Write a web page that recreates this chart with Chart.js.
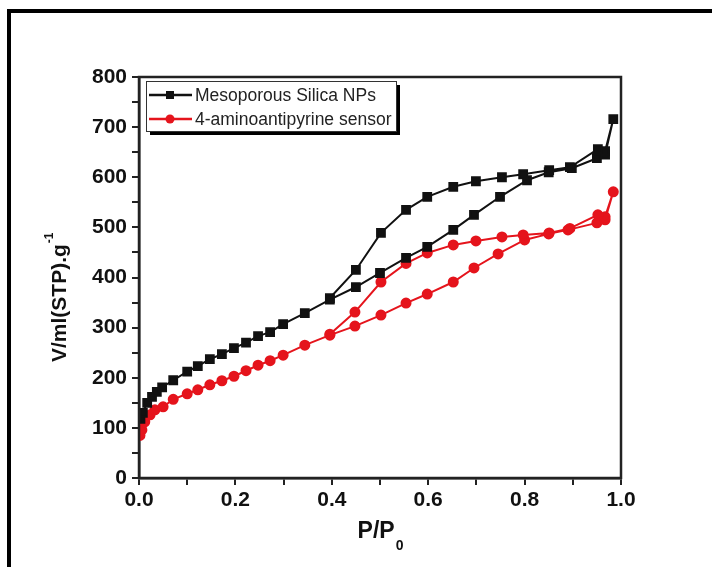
<!DOCTYPE html>
<html lang="en">
<head>
  <meta charset="UTF-8">
  <title>N2 isotherm</title>
  <script src="https://cdn.jsdelivr.net/npm/chart.js"></script>
  <style>
    html, body {
      margin: 0;
      padding: 0;
      background: #fff;
    }
    #wrap {
      position: relative;
      width: 712px;
      height: 567px;
      overflow: hidden;
    }
    #frame {
      position: absolute;
      left: 7px;
      top: 9px;
      width: 800px;
      height: 700px;
      border-left: 4px solid #000;
      border-top: 4px solid #000;
      pointer-events: none;
    }
  </style>
</head>
<body>

<div id="wrap">
  <div id="frame"></div>
  <canvas id="chart"></canvas>
</div>

<script>
  // Mesoporous Silica NPs - adsorption then desorption branch
  const silicaAdsP = [0.003, 0.008, 0.017, 0.027, 0.037, 0.048, 0.071, 0.10, 0.122, 0.147, 0.172, 0.197, 0.222, 0.247, 0.272, 0.299, 0.344, 0.396, 0.45, 0.50, 0.554, 0.598, 0.652, 0.695, 0.749, 0.805, 0.85, 0.898, 0.95, 0.967, 0.984];
  const silicaAdsV = [118, 130, 150, 162, 172, 181, 195, 212, 223, 237, 247, 259, 270, 283, 291, 307, 329, 356, 381, 409, 439, 461, 495, 525, 561, 594, 610, 618, 638, 645, 716];
  const silicaDesP = [0.967, 0.952, 0.894, 0.851, 0.797, 0.753, 0.699, 0.652, 0.598, 0.554, 0.502, 0.45, 0.396];
  const silicaDesV = [652, 656, 620, 614, 606, 600, 592, 581, 561, 535, 489, 415, 359];

  // 4-aminoantipyrine sensor
  const sensorAdsP = [0.002, 0.006, 0.012, 0.023, 0.033, 0.05, 0.071, 0.10, 0.122, 0.147, 0.172, 0.197, 0.222, 0.247, 0.272, 0.299, 0.344, 0.396, 0.448, 0.502, 0.554, 0.598, 0.652, 0.695, 0.745, 0.80, 0.85, 0.89, 0.95, 0.967, 0.984];
  const sensorAdsV = [85, 96, 112, 126, 136, 142, 157, 168, 176, 186, 194, 203, 214, 225, 234, 245, 265, 285, 303, 325, 349, 367, 391, 419, 447, 475, 487, 495, 509, 515, 571];
  const sensorDesP = [0.967, 0.952, 0.894, 0.851, 0.797, 0.753, 0.699, 0.652, 0.598, 0.554, 0.502, 0.448, 0.396];
  const sensorDesV = [521, 525, 498, 489, 485, 481, 473, 465, 449, 428, 391, 331, 287];

  const seriesNames = ["Mesoporous Silica NPs", "4-aminoantipyrine sensor"];
  const xTitle = "P/P";
  const xTitleSub = "0";
  const yTitle = "V/ml(STP).g";
  const yTitleSup = "-1";

  const FONT = '"Liberation Sans", Arial, sans-serif';
  const RED = '#e5141c';
  const BLACK = '#111';

  function toPoints(ps, vs) {
    return ps.map((p, i) => ({ x: p, y: vs[i] }));
  }

  const axisTitles = {
    id: 'axisTitles',
    afterDraw(chart) {
      const ctx = chart.ctx;
      const a = chart.chartArea;
      ctx.save();
      ctx.fillStyle = BLACK;
      ctx.textBaseline = 'alphabetic';
      ctx.textAlign = 'left';

      // x title with subscript
      ctx.font = 'bold 23px ' + FONT;
      const w = ctx.measureText(xTitle).width;
      ctx.font = 'bold 14px ' + FONT;
      const ws = ctx.measureText(xTitleSub).width;
      let x0 = (a.left + a.right) / 2 - (w + ws) / 2;
      ctx.font = 'bold 23px ' + FONT;
      ctx.fillText(xTitle, x0, 538);
      ctx.font = 'bold 14px ' + FONT;
      ctx.fillText(xTitleSub, x0 + w + 1, 550);

      // y title with superscript, rotated
      ctx.translate(66, 362);
      ctx.rotate(-Math.PI / 2);
      ctx.font = 'bold 21px ' + FONT;
      const wy = ctx.measureText(yTitle).width;
      ctx.fillText(yTitle, 0, 0);
      ctx.font = 'bold 12px ' + FONT;
      ctx.fillText(yTitleSup, wy + 1, -13);
      ctx.restore();
    }
  };

  const boxAndLegend = {
    id: 'boxAndLegend',
    afterDraw(chart) {
      const ctx = chart.ctx;
      const a = chart.chartArea;
      ctx.save();
      // plot frame
      ctx.strokeStyle = '#222';
      ctx.lineWidth = 2.5;
      ctx.strokeRect(a.left, a.top, a.right - a.left, a.bottom - a.top);

      // legend box with drop shadow
      const bx = 146, by = 81, bw = 250, bh = 50;
      ctx.fillStyle = '#000';
      ctx.fillRect(bx + 4, by + bh, bw, 4);
      ctx.fillRect(bx + bw, by + 4, 4, bh);
      ctx.fillStyle = '#fff';
      ctx.fillRect(bx, by, bw, bh);
      ctx.strokeStyle = '#333';
      ctx.lineWidth = 1;
      ctx.strokeRect(bx + 0.5, by + 0.5, bw, bh);

      ctx.font = '17.5px ' + FONT;
      ctx.textBaseline = 'middle';
      chart.data.datasets.forEach((ds, i) => {
        const y = by + 14 + i * 24;
        ctx.strokeStyle = ds.borderColor;
        ctx.lineWidth = 2.5;
        ctx.beginPath();
        ctx.moveTo(bx + 3, y);
        ctx.lineTo(bx + 46, y);
        ctx.stroke();
        ctx.fillStyle = ds.borderColor;
        if (ds.pointStyle === 'rect') {
          ctx.fillRect(bx + 24 - 4, y - 4, 8, 8);
        } else {
          ctx.beginPath();
          ctx.arc(bx + 24, y, 4.5, 0, Math.PI * 2);
          ctx.fill();
        }
        ctx.fillStyle = '#222';
        ctx.fillText(ds.label, bx + 49, y + 1);
      });
      ctx.restore();
    }
  };

  const ctx = document.getElementById('chart').getContext('2d');
  new Chart(ctx, {
    type: 'line',
    data: {
      datasets: [{
        label: seriesNames[0],
        data: toPoints(silicaAdsP.concat(silicaDesP), silicaAdsV.concat(silicaDesV)),
        borderColor: BLACK,
        backgroundColor: BLACK,
        borderWidth: 2,
        pointStyle: 'rect',
        pointRadius: 5.5,
        tension: 0
      }, {
        label: seriesNames[1],
        data: toPoints(sensorAdsP.concat(sensorDesP), sensorAdsV.concat(sensorDesV)),
        borderColor: RED,
        backgroundColor: RED,
        borderWidth: 2,
        pointStyle: 'circle',
        pointRadius: 4.5,
        tension: 0
      }]
    },
    options: {
      responsive: true,
      maintainAspectRatio: false,
      animation: false,
      layout: {
        padding: { left: 0, top: 77, right: 91, bottom: 0 }
      },
      plugins: {
        legend: { display: false },
        tooltip: { enabled: false }
      },
      scales: {
        x: {
          type: 'linear',
          min: 0,
          max: 1,
          afterFit: s => { s.height = 89; },
          ticks: {
            stepSize: 0.1,
            autoSkip: false,
            maxRotation: 0,
            padding: 3,
            color: '#111',
            font: { family: FONT, size: 21, weight: 'bold' },
            callback: (v, i) => (i % 2 === 0 ? (i / 10).toFixed(1) : '')
          },
          grid: { drawOnChartArea: false, tickLength: 7, color: '#222', lineWidth: 2 },
          border: { color: '#222', width: 2.5 }
        },
        y: {
          min: 0,
          max: 800,
          afterFit: s => { s.width = 139; },
          ticks: {
            stepSize: 50,
            autoSkip: false,
            padding: 5,
            color: '#111',
            font: { family: FONT, size: 21, weight: 'bold' },
            callback: v => (v % 100 === 0 ? v : '')
          },
          grid: { drawOnChartArea: false, tickLength: 7, color: '#222', lineWidth: 2 },
          border: { color: '#222', width: 2.5 }
        }
      }
    },
    plugins: [axisTitles, boxAndLegend]
  });
</script>

</body>
</html>
